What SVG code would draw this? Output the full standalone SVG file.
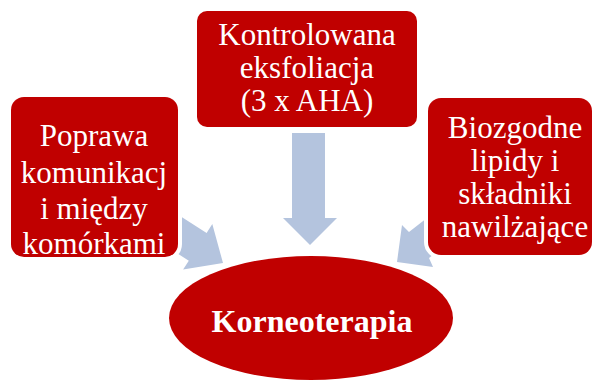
<svg xmlns="http://www.w3.org/2000/svg" width="593" height="381" viewBox="0 0 593 381">
<style>
.arrow{fill:#B4C4DE;stroke:none}
.box{fill:#C00000;stroke:#FFFFFF;stroke-width:8;paint-order:stroke}
.t{font-family:"Liberation Serif","Times New Roman",serif;font-size:31px;fill:#FFFFFF;text-anchor:middle}
.tb{font-family:"Liberation Serif","Times New Roman",serif;font-size:32px;font-weight:bold;fill:#FFFFFF;text-anchor:middle}
</style>
<rect width="593" height="381" fill="#FFFFFF"/>
<g id="connectors">
<polygon class="arrow" points="292,133 325,133 325,218 337,218 310,245 283,218 292,218"/>
<polygon class="arrow" points="164.5,206 206.6,232.9 212.3,224.1 223,263 183.1,269.5 188.8,260.7 146.7,233.8"/>
<polygon class="arrow" points="470,226 429,258 433,267 397,262 402,225 409,232 450,200"/>
</g>
<g id="node-left">
<rect class="box" x="11" y="97" width="167" height="160" rx="13"/>
<text class="t" x="94" y="146">Poprawa</text>
<text class="t" x="94" y="183">komunikacj</text>
<text class="t" x="94" y="219">i między</text>
<text class="t" x="94" y="254">komórkami</text>
</g>
<g id="node-top">
<rect class="box" x="197" y="11" width="220" height="116" rx="10"/>
<text class="t" x="307" y="45">Kontrolowana</text>
<text class="t" x="307" y="78">eksfoliacja</text>
<text class="t" x="307" y="111">(3 x AHA)</text>
</g>
<g id="node-right">
<rect class="box" x="428" y="98" width="164" height="157" rx="13"/>
<text class="t" x="515" y="138">Biozgodne</text>
<text class="t" x="515" y="171">lipidy i</text>
<text class="t" x="515" y="204">składniki</text>
<text class="t" x="515" y="237">nawilżające</text>
</g>
<g id="node-center">
<ellipse class="box" cx="311" cy="318" rx="142" ry="62"/>
<text class="tb" x="312" y="332">Korneoterapia</text>
</g>
</svg>
